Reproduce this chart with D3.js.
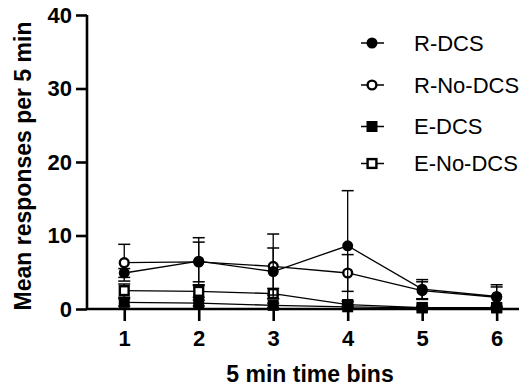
<!DOCTYPE html>
<html><head><meta charset="utf-8">
<script src="https://cdn.jsdelivr.net/npm/d3@7"></script>
<style>
html,body{margin:0;padding:0;background:#fff;}
svg{display:block;}
text{font-family:"Liberation Sans",Arial,sans-serif;}
</style></head>
<body>
<svg id="c" width="530" height="387"></svg>
<script>
const bins = [1, 2, 3, 4, 5, 6];
const yTicks = [0, 10, 20, 30, 40];
const seriesNames = ["R-DCS", "R-No-DCS", "E-DCS", "E-No-DCS"];
const rDcs = [4.9, 6.5, 5.1, 8.6, 2.7, 1.7];
const rDcsErr = [0.6, 3.2, 3.2, 7.5, 1.3, 1.6];
const rNoDcs = [6.3, 6.4, 5.8, 4.9, 2.5, 1.6];
const rNoDcsErr = [2.5, 2.7, 4.4, 2.5, 1.2, 1.4];
const eDcs = [0.9, 0.8, 0.5, 0.3, 0.15, 0.15];
const eDcsErr = [0.5, 0.4, 0.3, 0.2, 0.1, 0.1];
const eNoDcs = [2.5, 2.4, 2.1, 0.6, 0.2, 0.2];
const eNoDcsErr = [0.9, 0.8, 0.7, 0.4, 0.2, 0.2];

const series = [
  {name: seriesNames[3], vals: eNoDcs, err: eNoDcsErr, shape: "square", fill: false},
  {name: seriesNames[2], vals: eDcs, err: eDcsErr, shape: "square", fill: true},
  {name: seriesNames[1], vals: rNoDcs, err: rNoDcsErr, shape: "circle", fill: false},
  {name: seriesNames[0], vals: rDcs, err: rDcsErr, shape: "circle", fill: true}
];

const svg = d3.select("#c");
const x = d3.scaleLinear().domain([0.5, 6.3]).range([87, 519]);
const y = d3.scaleLinear().domain([0, 40]).range([309, 15]);

// Data lines, error bars, markers
const g = svg.append("g");
series.forEach(s => {
  const pts = bins.map((b, i) => ({b, v: s.vals[i], e: s.err[i]}));
  // error bars
  pts.forEach(p => {
    const lo = Math.max(0, p.v - p.e), hi = p.v + p.e;
    g.append("line").attr("x1", x(p.b)).attr("x2", x(p.b))
      .attr("y1", y(lo)).attr("y2", y(hi))
      .attr("stroke", "#000").attr("stroke-width", 1.3);
    g.append("line").attr("x1", x(p.b) - 6).attr("x2", x(p.b) + 6)
      .attr("y1", y(hi)).attr("y2", y(hi))
      .attr("stroke", "#000").attr("stroke-width", 1.5);
    if (p.v - p.e > 0) {
      g.append("line").attr("x1", x(p.b) - 6).attr("x2", x(p.b) + 6)
        .attr("y1", y(lo)).attr("y2", y(lo))
        .attr("stroke", "#000").attr("stroke-width", 1.5);
    }
  });
  g.append("path").datum(pts)
    .attr("d", d3.line().x(d => x(d.b)).y(d => y(d.v)))
    .attr("fill", "none").attr("stroke", "#000").attr("stroke-width", 1.3);
  pts.forEach(p => drawMarker(g, s, x(p.b), y(p.v)));
});

function drawMarker(sel, s, cx, cy) {
  if (s.shape === "circle") {
    if (s.fill) {
      sel.append("circle").attr("cx", cx).attr("cy", cy).attr("r", 5.5).attr("fill", "#000");
    } else {
      sel.append("circle").attr("cx", cx).attr("cy", cy).attr("r", 4.4)
        .attr("fill", "#fff").attr("stroke", "#000").attr("stroke-width", 2.4);
    }
  } else {
    if (s.fill) {
      sel.append("rect").attr("x", cx - 5.5).attr("y", cy - 5.5).attr("width", 11).attr("height", 11).attr("fill", "#000");
    } else {
      sel.append("rect").attr("x", cx - 4.4).attr("y", cy - 4.4).attr("width", 8.8).attr("height", 8.8)
        .attr("fill", "#fff").attr("stroke", "#000").attr("stroke-width", 2.4);
    }
  }
}

// Axes
const yAxis = d3.axisLeft(y).tickValues(yTicks).tickSize(11).tickPadding(4).tickFormat(d3.format("d"));
const yg = svg.append("g").attr("transform", "translate(87,0)").call(yAxis);
const xAxis = d3.axisBottom(x).tickValues(bins).tickSize(12).tickPadding(9).tickFormat(d3.format("d"));
const xg = svg.append("g").attr("transform", "translate(0,309)").call(xAxis);
[yg, xg].forEach(a => {
  a.select(".domain").attr("stroke", "#000").attr("stroke-width", 2.6);
  a.selectAll(".tick line").attr("stroke", "#000").attr("stroke-width", 2.6);
  a.selectAll(".tick text").attr("fill", "#000")
    .style("font-family", "'Liberation Sans', Arial, sans-serif")
    .style("font-size", "22px").style("font-weight", "bold");
});
yg.select(".domain").attr("d", "M0,309V15");
xg.select(".domain").attr("d", "M87,0H519");

// Titles
svg.append("text").attr("x", 310).attr("y", 382).attr("text-anchor", "middle")
  .style("font-size", "23px").style("font-weight", "bold").text("5 min time bins");
svg.append("text").attr("transform", "translate(31,166) rotate(-90)").attr("text-anchor", "middle")
  .style("font-size", "23px").style("font-weight", "bold").text("Mean responses per 5 min");

// Legend
const legendOrder = [series[3], series[2], series[1], series[0]];
const legY = [43, 85, 126.5, 163.5];
legendOrder.forEach((s, i) => {
  const lg = svg.append("g");
  lg.append("line").attr("x1", 361).attr("x2", 384).attr("y1", legY[i]).attr("y2", legY[i])
    .attr("stroke", "#000").attr("stroke-width", 1.5);
  drawMarker(lg, s, 372, legY[i]);
  lg.append("text").attr("x", 414).attr("y", legY[i]).attr("dy", "0.36em")
    .style("font-size", "22px").text(s.name);
});
</script>
</body></html>
